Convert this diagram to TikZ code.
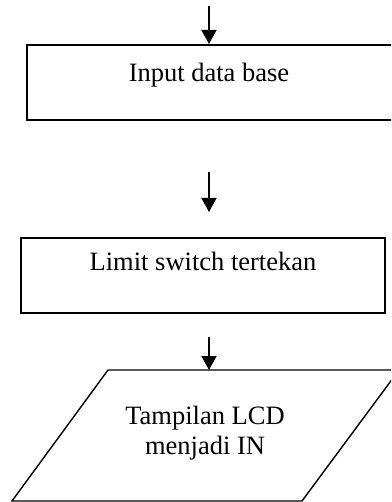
\documentclass[tikz,border=0pt]{standalone}
\usepackage{fontspec}
\setmainfont{Liberation Serif}
\usetikzlibrary{arrows.meta}
\begin{document}
\begin{tikzpicture}[x=1pt,y=-1pt,
  boxnode/.style={draw, line width=2pt, rectangle, inner sep=0pt},
  txt/.style={font=\fontsize{26.5}{30.5}\selectfont, inner sep=0pt},
  flow/.style={line width=1.4pt, -{Triangle[length=14pt,width=15pt]}},
  ]
\useasboundingbox (0,0) rectangle (391,502);
\clip (0,0) rectangle (391,502);
% boxes
\node[boxnode, minimum width=368pt, minimum height=75.5pt] (b1) at (211,82.75) {};
\node[boxnode, minimum width=364pt, minimum height=75pt] (b2) at (203,275.5) {};
% parallelogram
\draw[line width=1.4pt] (108,370) -- (399,370) -- (302,501) -- (12,501) -- cycle;
\coordinate (p3top) at (209,370);
% texts
\node[txt, anchor=base] (t1) at (209,82) {Input data base};
\node[txt, anchor=base] (t2) at (203,270) {Limit switch tertekan};
\node[txt, align=center] (t3) at (205,433) {Tampilan LCD\\menjadi IN};
% arrows
\coordinate (a1s) at (209,6);
\coordinate (a2s) at (209,172);
\coordinate (a2e) at (209,212);
\coordinate (a3s) at (209,337);
\draw[flow] (a1s) -- (a1s |- b1.north);
\draw[flow] (a2s) -- (a2e);
\draw[flow] (a3s) -- (p3top);
\end{tikzpicture}
\end{document}
